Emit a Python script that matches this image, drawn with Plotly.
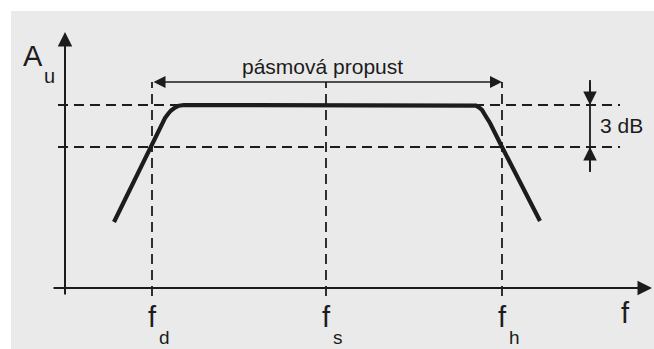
import plotly.graph_objects as go

# Band-pass amplitude response A_u(f), schematic units
F_D = 87      # lower cut-off frequency f_d
F_S = 261     # centre frequency f_s
F_H = 437     # upper cut-off frequency f_h
A_MAX = 183   # pass-band gain
A_3DB = 141   # gain 3 dB below the pass band

CURVE_F = [49, 85, 97, 100, 103, 106, 110, 114, 119,
           406, 411, 414, 417, 420, 425, 437, 475]
CURVE_A = [66, 141, 165, 170, 174, 177.5, 180.5, 182.3, 183,
           183, 182.3, 180.5, 178, 173, 165, 141, 67]

X_RANGE = [-65, 589]
Y_RANGE = [-61, 288]

INK = "#1c1c1c"
FONT = "Liberation Sans, Arial, Helvetica, sans-serif"
DASH = "10px,6px"

fig = go.Figure()

# response curve
fig.add_trace(go.Scatter(
    x=CURVE_F, y=CURVE_A, mode="lines",
    line=dict(color=INK, width=4.2),
    hoverinfo="skip",
))

shapes = [
    # scanned page background
    dict(type="rect", xref="paper", yref="paper",
         x0=11 / 654, x1=1, y0=0, y1=(349 - 11) / 349,
         fillcolor="#eaeaea", line=dict(width=0), layer="below"),
]

# horizontal reference levels
for lvl in (A_MAX, A_3DB):
    shapes.append(dict(type="line", x0=-7, x1=555, y0=lvl, y1=lvl,
                       line=dict(color=INK, width=1.8, dash=DASH)))

# vertical frequency markers
for f in (F_D, F_S, F_H):
    shapes.append(dict(type="line", x0=f, x1=f, y0=-8, y1=206,
                       line=dict(color=INK, width=1.8, dash=DASH)))

# 3 dB measuring line
shapes.append(dict(type="line", x0=525, x1=525, y0=116, y1=208,
                   line=dict(color=INK, width=1.8)))

annotations = []


def arrow(x, y, ax, ay, width=2.0, size=1.3, both=False):
    a = dict(x=x, y=y, ax=ax, ay=ay, xref="x", yref="y", axref="x", ayref="y",
             text="", showarrow=True, arrowhead=2, arrowsize=size,
             arrowwidth=width, arrowcolor=INK)
    if both:
        a.update(arrowside="end+start", startarrowhead=2, startarrowsize=size)
    annotations.append(a)


# axes
arrow(0, 256, 0, -8, width=2.0, size=1.45)
arrow(587, 0, -13, 0, width=2.0, size=1.45)
# pass-band width
arrow(F_H, 206, F_D, 206, width=1.6, size=1.5, both=True)
# 3 dB markers
arrow(525, A_MAX, 525, 208, width=1.8, size=1.5)
arrow(525, A_3DB, 525, 116, width=1.8, size=1.5)


def label(text, x, y, size, xanchor="center"):
    annotations.append(dict(x=x, y=y, xref="x", yref="y", text=text,
                            showarrow=False, xanchor=xanchor, yanchor="middle",
                            font=dict(family=FONT, size=size, color=INK)))


label("A", -32, 232, 29)
label("u", -23, 212, 20, xanchor="left")
label("pásmová propust", 257, 222, 21)
label("3 dB", 533, 163, 21, xanchor="left")

for f, sub in ((F_D, "d"), (F_S, "s"), (F_H, "h")):
    label("f", f + 0.5, -29, 29)
    label(sub, f + 5, -49, 19, xanchor="left")

label("f", 560, -25, 29)

fig.update_layout(
    width=654, height=349,
    margin=dict(l=0, r=0, t=0, b=0),
    paper_bgcolor="white", plot_bgcolor="rgba(0,0,0,0)",
    showlegend=False,
    xaxis=dict(range=X_RANGE, visible=False, fixedrange=True),
    yaxis=dict(range=Y_RANGE, visible=False, fixedrange=True),
    shapes=shapes, annotations=annotations,
)

fig.write_html("out.html", config={"displayModeBar": False})
